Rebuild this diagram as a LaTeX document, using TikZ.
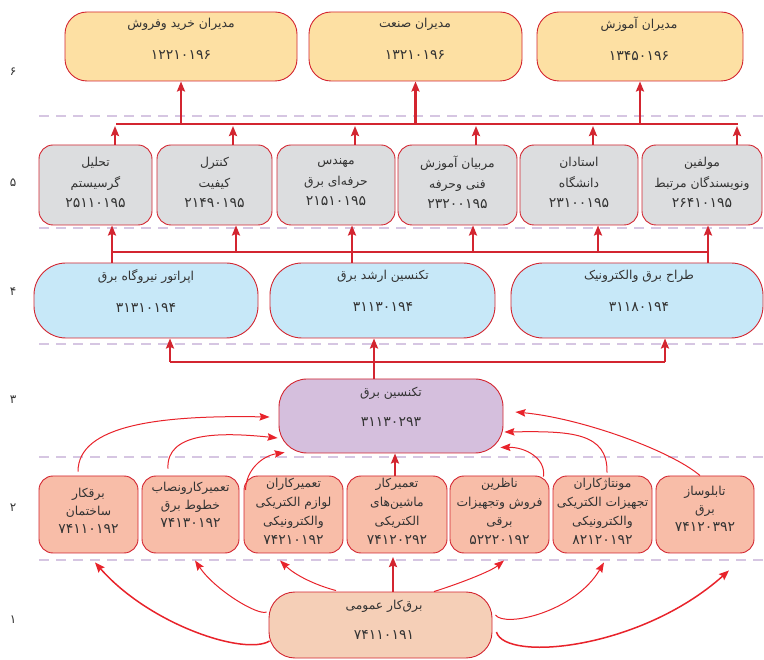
\documentclass[tikz,border=0pt]{standalone}
\usepackage{fontspec}
\usetikzlibrary{arrows.meta}
\TeXXeTstate=1
\newfontfamily\arabicfont[Script=Arabic]{DejaVu Sans}
\newcommand\rl[1]{\beginR #1\endR}
\newcommand\nm[1]{{\fontsize{14}{14}\selectfont #1}}
\definecolor{bred}{HTML}{D32530}
\definecolor{cred}{HTML}{E8232B}
\definecolor{dashc}{HTML}{D6C6E2}
\definecolor{fsix}{HTML}{FDE0A3}
\definecolor{ffive}{HTML}{DCDDDF}
\definecolor{ffour}{HTML}{C7E8F8}
\definecolor{fthree}{HTML}{D5BFDD}
\definecolor{ftwo}{HTML}{F8BDA8}
\definecolor{fone}{HTML}{F5CFB7}
\definecolor{ink}{HTML}{333333}
\begin{document}
\begin{tikzpicture}[x=1pt,y=-1pt,
  box/.style={draw=bred, line width=0.9pt, rounded corners=#1, inner sep=0pt},
  box/.default=14pt,
  txt/.style={font=\arabicfont\fontsize{12.3}{#1}\selectfont, text=ink, align=center, inner sep=0pt},
  lab/.style={font=\arabicfont\fontsize{12}{12}\selectfont, text=ink, inner sep=0pt},
  dashline/.style={draw=dashc, line width=2.4pt, dash pattern=on 10pt off 7pt},
  bus/.style={draw=bred, line width=2.6pt},
  thk/.style={draw=bred, line width=2.4pt, -{Stealth[length=10pt,width=8pt,inset=1.5pt]}},
  crv/.style={draw=cred, line width=1pt, -{Stealth[length=10pt,width=7.5pt,inset=1.5pt]}},
  crvb/.style={draw=cred, line width=1.5pt, -{Stealth[length=10pt,width=8pt,inset=1.5pt]}}
]
\useasboundingbox (0,0) rectangle (764,660);

% dashed separators
\foreach \yy in {116,228,344,457,560} \draw[dashline] (39,\yy) -- (764,\yy);

% row labels
\node[lab] (n6) at (13,72) {۶};
\node[lab] (n5) at (13,183) {۵};
\node[lab] (n4) at (13,292) {۴};
\node[lab] (n3) at (13,400) {۳};
\node[lab] (n2) at (13,508) {۲};
\node[lab] (n1) at (13,620) {۱};

% row 6
\node[box=22pt, fill=fsix, minimum width=232pt, minimum height=69pt] (r6a) at (181,46.5) {};
\node[box=22pt, fill=fsix, minimum width=213pt, minimum height=69pt] (r6b) at (415.5,46.5) {};
\node[box=22pt, fill=fsix, minimum width=206pt, minimum height=69pt] (r6c) at (640,46.5) {};
\node[txt=32pt] (t6a) at (181,39) {\rl{مدیران خرید وفروش}\\\nm{۱۲۲۱۰۱۹۶}};
\node[txt=32pt] (t6b) at (415,39) {\rl{مدیران صنعت}\\\nm{۱۳۲۱۰۱۹۶}};
\node[txt=32pt] (t6c) at (639,39) {\rl{مدیران آموزش}\\\nm{۱۳۴۵۰۱۹۶}};

% row 5
\node[box=14pt, fill=ffive, minimum width=113pt, minimum height=80pt] (r5a) at (95.5,185) {};
\node[box=14pt, fill=ffive, minimum width=115pt, minimum height=80pt] (r5b) at (214.5,185) {};
\node[box=14pt, fill=ffive, minimum width=118pt, minimum height=80pt] (r5c) at (336,185) {};
\node[box=14pt, fill=ffive, minimum width=119pt, minimum height=80pt] (r5d) at (457.5,185) {};
\node[box=14pt, fill=ffive, minimum width=118pt, minimum height=80pt] (r5e) at (579,185) {};
\node[box=14pt, fill=ffive, minimum width=120pt, minimum height=80pt] (r5f) at (702,185) {};
\node[txt=20.5pt] (t5a) at (95.5,182.5) {\rl{تحلیل}\\\rl{گرسیستم}\\\nm{۲۵۱۱۰۱۹۵}};
\node[txt=20.5pt] (t5b) at (214.5,182.5) {\rl{کنترل}\\\rl{کیفیت}\\\nm{۲۱۴۹۰۱۹۵}};
\node[txt=20.5pt] (t5c) at (336,182.5) {\rl{مهندس}\\\rl{حرفه‌ای برق}\\\nm{۲۱۵۱۰۱۹۵}};
\node[txt=20.5pt] (t5d) at (457.5,182.5) {\rl{مربیان آموزش}\\\rl{فنی وحرفه}\\\nm{۲۳۲۰۰۱۹۵}};
\node[txt=20.5pt] (t5e) at (579,182.5) {\rl{استادان}\\\rl{دانشگاه}\\\nm{۲۳۱۰۰۱۹۵}};
\node[txt=20.5pt] (t5f) at (702,182.5) {\rl{مولفین}\\\rl{ونویسندگان مرتبط}\\\nm{۲۶۴۱۰۱۹۵}};

% row 4
\node[box=32pt, fill=ffour, minimum width=224pt, minimum height=75pt] (r4a) at (146,300.5) {};
\node[box=32pt, fill=ffour, minimum width=225pt, minimum height=75pt] (r4b) at (382.5,300.5) {};
\node[box=32pt, fill=ffour, minimum width=252pt, minimum height=75pt] (r4c) at (637,300.5) {};
\node[txt=32pt] (t4a) at (146,291) {\rl{اپراتور نیروگاه برق}\\\nm{۳۱۳۱۰۱۹۴}};
\node[txt=32pt] (t4b) at (383,291) {\rl{تکنسین ارشد برق}\\\nm{۳۱۱۳۰۱۹۴}};
\node[txt=32pt] (t4c) at (639,291) {\rl{طراح برق والکترونیک}\\\nm{۳۱۱۸۰۱۹۴}};

% row 3
\node[box=28pt, fill=fthree, minimum width=224pt, minimum height=74pt] (r3) at (391,416) {};
\node[txt=30pt] (t3) at (391,407) {\rl{تکنسین برق}\\\nm{۳۱۱۳۰۲۹۳}};

% row 2
\node[box=14pt, fill=ftwo, minimum width=99pt, minimum height=77pt] (r2a) at (88.5,514.5) {};
\node[box=14pt, fill=ftwo, minimum width=97pt, minimum height=77pt] (r2b) at (190.5,514.5) {};
\node[box=14pt, fill=ftwo, minimum width=99pt, minimum height=77pt] (r2c) at (293.5,514.5) {};
\node[box=14pt, fill=ftwo, minimum width=100pt, minimum height=77pt] (r2d) at (397,514.5) {};
\node[box=14pt, fill=ftwo, minimum width=99pt, minimum height=77pt] (r2e) at (499.5,514.5) {};
\node[box=14pt, fill=ftwo, minimum width=99pt, minimum height=77pt] (r2f) at (602.5,514.5) {};
\node[box=14pt, fill=ftwo, minimum width=98pt, minimum height=77pt] (r2g) at (705,514.5) {};
\node[txt=18pt] (t2a) at (88.5,511) {\rl{برقکار}\\\rl{ساختمان}\\\nm{۷۴۱۱۰۱۹۲}};
\node[txt=18pt] (t2b) at (190.5,505) {\rl{تعمیرکارونصاب}\\\rl{خطوط برق}\\\nm{۷۴۱۳۰۱۹۲}};
\node[txt=19pt] (t2c) at (293.5,511.5) {\rl{تعمیرکاران}\\\rl{لوازم الکتریکی}\\\rl{والکترونیکی}\\\nm{۷۴۲۱۰۱۹۲}};
\node[txt=19pt] (t2d) at (397,511.5) {\rl{تعمیرکار}\\\rl{ماشین‌های}\\\rl{الکتریکی}\\\nm{۷۴۱۲۰۲۹۲}};
\node[txt=19pt] (t2e) at (499.5,511.5) {\rl{ناظرین}\\\rl{فروش وتجهیزات}\\\rl{برقی}\\\nm{۵۲۲۲۰۱۹۲}};
\node[txt=19pt] (t2f) at (602.5,511.5) {\rl{مونتاژکاران}\\\rl{تجهیزات الکتریکی}\\\rl{والکترونیکی}\\\nm{۸۲۱۲۰۱۹۲}};
\node[txt=18pt] (t2g) at (705,508.5) {\rl{تابلوساز}\\\rl{برق}\\\nm{۷۴۱۲۰۳۹۲}};

% row 1
\node[box=26pt, fill=fone, minimum width=223pt, minimum height=66pt] (r1) at (380.5,625) {};
\node[txt=30pt] (t1) at (384,620) {\rl{برق‌کار عمومی}\\\nm{۷۴۱۱۰۱۹۱}};

% ---- bus row 6
\coordinate (bus6l) at (116,124);
\coordinate (bus6r) at (738,124);
\draw[bus] (bus6l) -- (bus6r);
\draw[thk] (r6a.south |- bus6l) -- (r6a.south);
\draw[thk] (r6b.south |- bus6l) -- (r6b.south);
\draw[thk] (r6c.south |- bus6l) -- (r6c.south);
\coordinate (u5a) at (115,126);
\coordinate (u5b) at (233,126);
\coordinate (u5c) at (355,126);
\coordinate (u5d) at (476,126);
\coordinate (u5e) at (593,126);
\coordinate (u5f) at (737,126);
\draw[thk] (u5a |- r5a.north) -- (u5a);
\draw[thk] (u5b |- r5b.north) -- (u5b);
\draw[thk] (u5c |- r5c.north) -- (u5c);
\draw[thk] (u5d |- r5d.north) -- (u5d);
\draw[thk] (u5e |- r5e.north) -- (u5e);
\draw[thk] (u5f |- r5f.north) -- (u5f);

% ---- bus row 4
\coordinate (bus4l) at (112,252);
\coordinate (bus4m) at (352,252);
\coordinate (bus4r) at (708,252);
\coordinate (v5b) at (236,252);
\coordinate (v5d) at (473,252);
\coordinate (v5e) at (598,252);
\draw[bus] (bus4l) -- (bus4r);
\draw[bus] (bus4l |- r4a.north) -- (bus4l);
\draw[bus] (bus4m |- r4b.north) -- (bus4m);
\draw[bus] (bus4r |- r4c.north) -- (bus4r);
\draw[thk] (bus4l) -- (bus4l |- r5a.south);
\draw[thk] (v5b) -- (v5b |- r5b.south);
\draw[thk] (bus4m) -- (bus4m |- r5c.south);
\draw[thk] (v5d) -- (v5d |- r5d.south);
\draw[thk] (v5e) -- (v5e |- r5e.south);
\draw[thk] (bus4r) -- (bus4r |- r5f.south);

% ---- bus row 3
\coordinate (bus3l) at (170,362);
\coordinate (bus3m) at (374,362);
\coordinate (bus3r) at (665,362);
\draw[bus] (bus3l) -- (bus3r);
\draw[bus] (bus3m |- r3.north) -- (bus3m);
\draw[thk] (bus3l) -- (bus3l |- r4a.south);
\draw[thk] (bus3m) -- (bus3m |- r4b.south);
\draw[thk] (bus3r) -- (bus3r |- r4c.south);

% ---- row 2 to row 3
\draw[thk] ([shift={(-2,0)}]r2d.north) -- ([shift={(4,0)}]r3.south);
\draw[crv] ([shift={(-10.5,-4)}]r2a.north) .. controls (78,425) and (160,415) .. ([shift={(-9,1)}]r3.west);
\draw[crv] ([shift={(-22.5,-7)}]r2b.north) .. controls (166,432) and (220,432) .. ([shift={(-1,22)}]r3.west);
\draw[crv] ([shift={(2,-24.5)}]r2c.west) .. controls (246,470) and (262,456) .. ([shift={(6,-1)}]r3.south west);
\draw[crv] ([shift={(-6,1)}]r2e.north east) .. controls (546,458) and (525,447) .. ([shift={(-3,-6)}]r3.south east);
\draw[crv] ([shift={(4.5,-3)}]r2f.north) .. controls (608,432) and (570,431) .. ([shift={(1,16)}]r3.east);
\draw[crv] ([shift={(-5,0)}]r2g.north) .. controls (670,450) and (580,418) .. ([shift={(12,-4)}]r3.east);

% ---- row 1 to row 2
\coordinate (d4) at (393,557);
\draw[thk] (d4 |- r1.north) -- (d4);
\draw[crvb] ([shift={(1,16)}]r1.west) .. controls (245,656) and (150,625) .. ([shift={(6.5,9)}]r2a.south);
\draw[crv] ([shift={(-2,-13)}]r1.west) .. controls (258,616) and (215,590) .. ([shift={(4.5,7)}]r2b.south);
\draw[crv] ([shift={(-44.5,-1)}]r1.north) .. controls (315,585) and (295,575) .. ([shift={(-13.5,7)}]r2c.south);
\draw[crv] ([shift={(53.5,0)}]r1.north) .. controls (455,585) and (490,572) .. ([shift={(4.5,7)}]r2e.south);
\draw[crv] ([shift={(3,-10)}]r1.east) .. controls (505,628) and (575,612) .. ([shift={(1.5,9)}]r2f.south);
\draw[crvb] ([shift={(4,7)}]r1.east) .. controls (505,662) and (640,650) .. ([shift={(24,17)}]r2g.south);
\end{tikzpicture}
\end{document}
